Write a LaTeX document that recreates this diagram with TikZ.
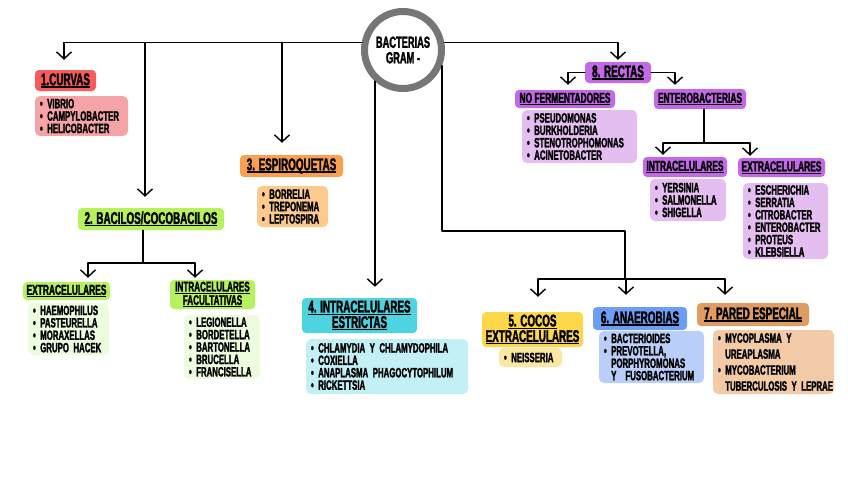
\documentclass[tikz,border=0pt]{standalone}
\usepackage{fontspec}
\newfontfamily\hand{Liberation Sans}[FakeStretch=0.58, FakeBold=1.8]
\usetikzlibrary{arrows.meta}
\definecolor{redH}{HTML}{F75B5E}\definecolor{redL}{HTML}{F4A4A6}
\definecolor{orH}{HTML}{F9A150}\definecolor{orL}{HTML}{FCCA8C}
\definecolor{grH}{HTML}{B7F25E}\definecolor{grL}{HTML}{EDFCDF}
\definecolor{cyH}{HTML}{4ED3E0}\definecolor{cyL}{HTML}{C2F0F5}
\definecolor{yeH}{HTML}{FDD64A}\definecolor{yeL}{HTML}{FBE7A1}
\definecolor{blH}{HTML}{6E9DF5}\definecolor{blL}{HTML}{B9CFF9}
\definecolor{brH}{HTML}{DE9B62}\definecolor{brL}{HTML}{F2CAA8}
\definecolor{puH}{HTML}{C468E8}\definecolor{puL}{HTML}{E4BDF1}
\definecolor{ring}{HTML}{767676}
\newcommand\ulx[1]{\leavevmode\setbox0\hbox{#1}\rlap{\rule[-2.4pt]{\wd0}{1.2pt}}\box0}
\newcommand\bul{\textbullet\ }
\newcommand\li[1]{\mbox{\bul #1}}
\newcommand\lc[1]{\mbox{\hphantom{\bul}#1}}
\begin{document}
\begin{tikzpicture}[x=1pt,y=-1pt,
  hdr/.style={rounded corners=4pt, inner sep=1pt, align=center,
    font=\hand\bfseries\fontsize{17}{15}\selectfont},
  hdrtwo/.style={hdr, font=\hand\bfseries\fontsize{17}{15.5}\selectfont},
  sub/.style={hdr, font=\hand\bfseries\fontsize{14.5}{13}\selectfont},
  lst/.style={rounded corners=5pt, inner xsep=5pt, inner ysep=1pt, align=left,
    font=\hand\bfseries\fontsize{13.5}{12.4}\selectfont},
  ln/.style={line width=1.4pt, line cap=round, line join=round},
  arr/.style={ln, -{Straight Barb[length=7pt,width=15pt,line width=1.4pt]}}]
\useasboundingbox (0,0) rectangle (848,477);

% root
\node[circle, draw=ring, line width=7pt, fill=white, minimum size=77pt, inner sep=0pt,
  align=center, font=\hand\bfseries\fontsize{16}{15.5}\selectfont] (root) at (403,50) {BACTERIAS\\GRAM -};

% 1
\node[hdr,fill=redH,minimum width=61pt,minimum height=21pt] (curvas) at (65.5,80.5) {\ulx{1.CURVAS}};
\node[lst,fill=redL,text width=83pt,minimum height=40pt] (curvasL) at (81.5,116) {\li{VIBRIO}\\\li{CAMPYLOBACTER}\\\li{HELICOBACTER}};
% 3
\node[hdr,fill=orH,minimum width=103pt,minimum height=22pt] (esp) at (291.5,166) {\ulx{3. ESPIROQUETAS}};
\node[lst,fill=orL,text width=61pt,minimum height=41pt] (espL) at (292.5,206.5) {\li{BORRELIA}\\\li{TREPONEMA}\\\li{LEPTOSPIRA}};
% 2
\node[hdr,fill=grH,minimum width=146pt,minimum height=22pt] (bac) at (151,219) {\ulx{2. BACILOS/COCOBACILOS}};
\node[sub,fill=grH,minimum width=87pt,minimum height=18pt] (extra) at (66.5,291) {\ulx{EXTRACELULARES}};
\node[lst,fill=grL,text width=71pt,minimum height=52pt] (extraL) at (68.5,329) {\li{HAEMOPHILUS}\\\li{PASTEURELLA}\\\li{MORAXELLAS}\\\li{GRUPO HACEK}};
\node[sub,fill=grH,minimum width=85pt,minimum height=29pt,font=\hand\bfseries\fontsize{14}{13.5}\selectfont] (intrafac) at (212.5,294.5) {\ulx{INTRACELULARES}\\\ulx{FACULTATIVAS}};
\node[lst,fill=grL,text width=66pt,minimum height=64pt] (intrafacL) at (222,347) {\li{LEGIONELLA}\\\li{BORDETELLA}\\\li{BARTONELLA}\\\li{BRUCELLA}\\\li{FRANCISELLA}};
% 4
\node[hdrtwo,fill=cyH,minimum width=115pt,minimum height=35pt] (estr) at (359.5,315.5) {\ulx{4. INTRACELULARES}\\\ulx{ESTRICTAS}};
\node[lst,fill=cyL,text width=152pt,minimum height=55pt] (estrL) at (387,366.5) {\li{CHLAMYDIA Y CHLAMYDOPHILA}\\\li{COXIELLA}\\\li{ANAPLASMA PHAGOCYTOPHILUM}\\\li{RICKETTSIA}};
% 5
\node[hdrtwo,fill=yeH,minimum width=101pt,minimum height=35pt] (cocos) at (532.5,329.5) {\ulx{5. COCOS}\\\ulx{EXTRACELULARES}};
\node[lst,fill=yeL,text width=53pt,minimum height=19pt] (cocosL) at (530.5,357.5) {\li{NEISSERIA}};
% 6
\node[hdr,fill=blH,minimum width=94pt,minimum height=23pt] (anae) at (640,318.5) {\ulx{6. ANAEROBIAS}};
\node[lst,fill=blL,text width=95pt,minimum height=52pt] (anaeL) at (651.5,357) {\li{BACTERIOIDES}\\\li{PREVOTELLA,}\\\lc{PORPHYROMONAS}\\\lc{Y\ \ FUSOBACTERIUM}};
% 7
\node[hdr,fill=brH,minimum width=112pt,minimum height=23pt] (pared) at (753,314.5) {\ulx{7. PARED ESPECIAL}};
\node[lst,fill=brL,text width=111pt,minimum height=64pt,font=\hand\bfseries\fontsize{13.5}{16}\selectfont] (paredL) at (773.5,362) {\li{MYCOPLASMA Y}\\\lc{UREAPLASMA}\\\li{MYCOBACTERIUM}\\\lc{TUBERCULOSIS Y LEPRAE}};
% 8
\node[hdr,fill=puH,minimum width=66pt,minimum height=21pt] (rectas) at (618,72.5) {\ulx{8. RECTAS}};
\node[sub,fill=puH,minimum width=100pt,minimum height=18pt] (nof) at (565,99) {\ulx{NO FERMENTADORES}};
\node[lst,fill=puL,text width=105pt,minimum height=53pt] (nofL) at (579.5,136.5) {\li{PSEUDOMONAS}\\\li{BURKHOLDERIA}\\\li{STENOTROPHOMONAS}\\\li{ACINETOBACTER}};
\node[sub,fill=puH,minimum width=92pt,minimum height=20pt] (entero) at (700,99) {\ulx{ENTEROBACTERIAS}};
\node[sub,fill=puH,minimum width=84pt,minimum height=20pt] (intraE) at (685,167) {\ulx{INTRACELULARES}};
\node[lst,fill=puL,text width=66pt,minimum height=42pt] (intraEL) at (688,200) {\li{YERSINIA}\\\li{SALMONELLA}\\\li{SHIGELLA}};
\node[sub,fill=puH,minimum width=87pt,minimum height=19pt] (extraE) at (781.5,167.5) {\ulx{EXTRACELULARES}};
\node[lst,fill=puL,text width=75pt,minimum height=76pt] (extraEL) at (785.5,221) {\li{ESCHERICHIA}\\\li{SERRATIA}\\\li{CITROBACTER}\\\li{ENTEROBACTER}\\\li{PROTEUS}\\\li{KLEBSIELLA}};

% coordinates
\coordinate (x1) at (64,0);
\coordinate (x2) at (145,0);
\coordinate (x3) at (282,0);
\coordinate (xb) at (143,0);
\coordinate (yb) at (0,263);
\coordinate (xe) at (88,0);
\coordinate (xi) at (195,0);
\coordinate (jt) at (625,231);
\coordinate (jb) at (625,279);
\coordinate (x5) at (538,0);
\coordinate (x6) at (626,0);
\coordinate (x7) at (725,0);
\coordinate (xn) at (568,0);
\coordinate (xt) at (675,0);
\coordinate (xen) at (704,0);
\coordinate (yen) at (0,143);
\coordinate (xa) at (663,0);
\coordinate (xc) at (750,0);

% left bus
\draw[arr,shorten >=10pt] (root.170) -| (x1 |- curvas.north);
\draw[arr,shorten >=11pt] (root.170 -| x2) -- (x2 |- bac.north);
\draw[arr,shorten >=12pt] (root.170 -| x3) -- (x3 |- esp.north);
% bacilos split
\draw[ln] (xb |- bac.south) -- (xb |- yb);
\draw[ln] (xe |- yb) -- (xi |- yb);
\draw[arr,shorten >=4pt] (xe |- yb) -- (xe |- extra.north);
\draw[arr,shorten >=2pt] (xi |- yb) -- (xi |- intrafac.north);
% 4
\draw[arr,shorten >=11pt] (root.228) -- (root.228 |- estr.north);
% right bus
\draw[arr,shorten >=2pt] (root.10) -| (rectas.north);
\draw[arr,shorten >=5pt] (rectas.west) -| (xn |- nof.north);
\draw[arr,shorten >=4pt] (rectas.east) -| (xt |- entero.north);
\draw[ln] (xen |- entero.south) -- (xen |- yen);
\draw[ln] (xa |- yen) -- (xc |- yen);
\draw[arr,shorten >=2pt] (xa |- yen) -- (xa |- intraE.north);
\draw[arr,shorten >=2pt] (xc |- yen) -- (xc |- extraE.north);
% lower right
\draw[ln] (root.-22) |- (jt) -- (jb);
\draw[ln] (x5 |- jb) -- (x7 |- jb);
\draw[arr,shorten >=15pt] (x5 |- jb) -- (x5 |- cocos.north);
\draw[arr,shorten >=12pt] (x6 |- jb) -- (x6 |- anae.north);
\draw[arr,shorten >=8pt] (x7 |- jb) -- (x7 |- pared.north);
\end{tikzpicture}
\end{document}
